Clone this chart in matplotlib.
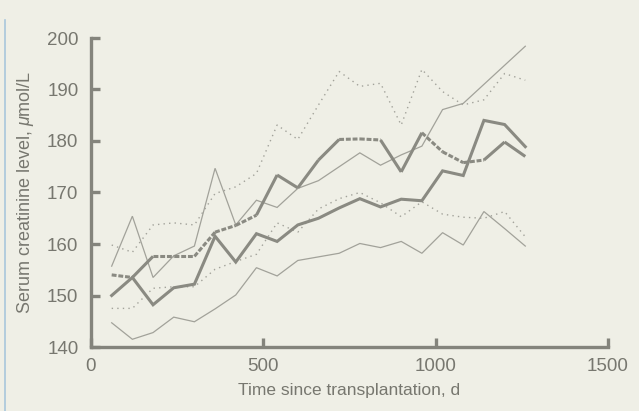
import matplotlib
matplotlib.use("Agg")
import matplotlib.pyplot as plt
from matplotlib.lines import Line2D

# ---- data ----
days = [60, 120, 180, 240, 300, 360, 420, 480, 540, 600, 660, 720,
        780, 840, 900, 960, 1020, 1080, 1140, 1200, 1260]

thick_lower = [150.0, 153.5, 148.2, 151.5, 152.2, 161.5, 156.5, 162.0, 160.5, 163.7, 165.0,
               167.0, 168.8, 167.2, 168.7, 168.4, 174.2, 173.3, 184.0, 183.2, 178.9]
thick_upper = [154.0, 153.5, 157.6, 157.6, 157.6, 162.3, 163.6, 165.6, 173.4, 170.9, 176.3,
               180.3, 180.4, 180.2, 174.0, 181.6, 177.9, 175.8, 176.3, 179.8, 177.0]
# segment style of the upper thick curve (True = solid, False = dashed)
upper_seg_solid = [False, True, False, False, False, False, False, True, True, True, True,
                   False, False, True, True, False, False, False, True, True]

thin_upper = [155.7, 165.4, 153.5, 157.7, 159.6, 174.7, 163.7, 168.5, 167.1, 170.8, 172.3,
              175.0, 177.7, 175.3, 177.3, 179.0, 186.1, 187.3, 191.0, 194.7, 198.4]
thin_lower = [144.7, 141.5, 142.8, 145.8, 144.9, 147.4, 150.1, 155.4, 153.8, 156.8, 157.5,
              158.2, 160.1, 159.3, 160.5, 158.2, 162.2, 159.8, 166.3, 163.0, 159.6]
dot_upper = [159.8, 158.4, 163.7, 164.1, 163.7, 169.8, 171.1, 173.7, 183.1, 180.3, 187.0,
             193.5, 190.6, 191.2, 183.1, 193.9, 189.6, 187.0, 188.0, 193.1, 191.8]
dot_lower = [147.5, 147.5, 151.4, 151.7, 151.7, 155.1, 156.6, 158.0, 164.1, 162.3, 166.8,
             168.8, 170.0, 168.0, 165.3, 168.2, 165.8, 165.2, 165.0, 166.3, 161.4]

xticks = [0, 500, 1000, 1500]
yticks = [140, 150, 160, 170, 180, 190, 200]

# ---- style ----
bg = "#efefe6"
c_thick = "#8a8a82"
c_thin = "#a2a29a"
c_axis = "#84847c"
c_text = "#77776f"

plt.rcParams['font.family'] = ['Liberation Sans', 'DejaVu Sans']
plt.rcParams['mathtext.fontset'] = 'custom'
plt.rcParams['mathtext.it'] = 'Liberation Sans:italic'
plt.rcParams['mathtext.rm'] = 'Liberation Sans'

fig = plt.figure(figsize=(6.39, 4.11), dpi=100, facecolor=bg)
ax = fig.add_axes([91/639, 1 - 347/411, (608-91)/639, (347-38)/411])
ax.set_facecolor(bg)

ax.plot(days, thin_upper, color=c_thin, lw=0.9, solid_joinstyle='miter')
ax.plot(days, thin_lower, color=c_thin, lw=0.9, solid_joinstyle='miter')
ax.plot(days, dot_upper, color=c_thin, lw=1.0, linestyle=(0, (1, 3)))
ax.plot(days, dot_lower, color=c_thin, lw=1.0, linestyle=(0, (1, 3)))

ax.plot(days, thick_lower, color=c_thick, lw=2.2, solid_joinstyle='miter')
for i, solid in enumerate(upper_seg_solid):
    ax.plot(days[i:i+2], thick_upper[i:i+2], color=c_thick, lw=2.2,
            linestyle='-' if solid else (0, (1.6, 0.6)), solid_capstyle='butt',
            dash_capstyle='butt')

ax.set_xlim(0, 1500)
ax.set_ylim(140, 200)
ax.set_xticks(xticks)
ax.set_yticks(yticks)
for s in ['top', 'right']:
    ax.spines[s].set_visible(False)
for s in ['left', 'bottom']:
    ax.spines[s].set_color(c_axis)
    ax.spines[s].set_linewidth(2.4)
ax.tick_params(axis='both', direction='in', length=6.5, width=2.4, color=c_axis,
               labelcolor=c_text, labelsize=13.5)
ax.tick_params(axis='y', pad=9)
ax.tick_params(axis='x', pad=8)

ax.set_xlabel("Time since transplantation, d", color=c_text, fontsize=12.5, labelpad=6)
ax.set_ylabel("Serum creatinine level, $\\mu$mol/L", color=c_text, fontsize=13, labelpad=8)

# scan edge artefact
fig.add_artist(Line2D([5/639, 5/639], [0, 1 - 20/411], color="#a9c7dc", lw=1.2))

fig.savefig("out.png", dpi=100, facecolor=bg)
